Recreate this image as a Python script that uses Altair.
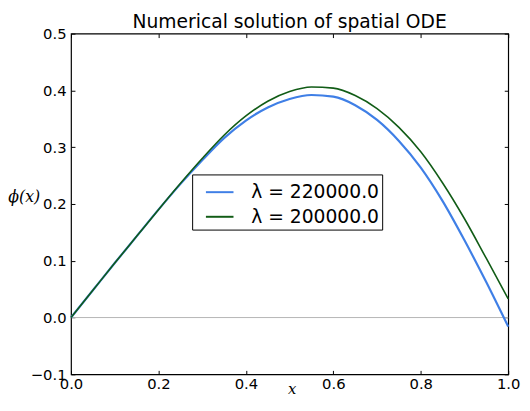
import altair as alt
import pandas as pd

# ---- data ----
x_vals = [0.00, 0.05, 0.10, 0.15, 0.20, 0.25, 0.30, 0.35, 0.40, 0.45, 0.50,
          0.55, 0.60, 0.65, 0.70, 0.75, 0.80, 0.85, 0.90, 0.95, 1.00]
phi_220 = [0.000, 0.048, 0.096, 0.143, 0.190, 0.235, 0.277, 0.316, 0.347, 0.370, 0.385,
           0.392, 0.389, 0.374, 0.348, 0.311, 0.264, 0.205, 0.136, 0.062, -0.016]
phi_200 = [0.000, 0.048, 0.096, 0.143, 0.190, 0.236, 0.280, 0.321, 0.355, 0.381, 0.398,
           0.406, 0.404, 0.391, 0.368, 0.335, 0.292, 0.237, 0.174, 0.104, 0.033]
series = ["λ = 220000.0", "λ = 200000.0"]
colors = ["#3f7fe6", "#115c16"]
zero_x = [0.0, 1.0]
zero_y = [0.0, 0.0]
x_ticks = [0.0, 0.2, 0.4, 0.6, 0.8, 1.0]
y_ticks = [-0.1, 0.0, 0.1, 0.2, 0.3, 0.4, 0.5]

W, H = 444, 346
TICK = 4

df_blue = pd.DataFrame({"x": x_vals, "phi": phi_220, "s": series[0]})
df_green = pd.DataFrame({"x": x_vals, "phi": phi_200, "s": series[1]})
df_zero = pd.DataFrame({"x": zero_x, "phi": zero_y})

xs = alt.Scale(domain=[0, 1], nice=False, zero=False)
ys = alt.Scale(domain=[-0.1, 0.5], nice=False, zero=False)
cs = alt.Scale(domain=series, range=colors)

FONT = "DejaVu Sans"

main_x = alt.Axis(values=x_ticks, format=".1f", orient="bottom", ticks=False, tickSize=0,
                  domain=False, grid=False, labelFontSize=15, labelFont=FONT,
                  labelColor="black", labelPadding=2, labelFlush=False, labelOverlap=False,
                  labelBound=False,
                  title="x", titleFont="DejaVu Serif", titleFontStyle="italic",
                  titleFontWeight="normal", titleFontSize=15, titleColor="black",
                  titleX=224, titleY=19, titleAlign="center", titleBaseline="alphabetic")
main_y = alt.Axis(values=y_ticks, format=".1f", orient="left", ticks=False, tickSize=0,
                  domain=False, grid=False, labelFontSize=15, labelFont=FONT,
                  labelColor="black", labelPadding=5, labelFlush=False, labelOverlap=False,
                  title="ϕ(x)", titleFont="DejaVu Serif", titleFontStyle="italic",
                  titleFontWeight="normal", titleFontSize=16, titleColor="black",
                  titleAngle=0, titleX=-48, titleY=165, titleAlign="center",
                  titleBaseline="middle")


def tick_axis(orient, offset, values):
    # inward-pointing ticks: the axis is pulled inside the frame by a negative offset
    return alt.Axis(values=values, orient=orient, offset=offset, labels=False,
                    domain=False, grid=False, ticks=True, tickSize=TICK,
                    tickColor="black", tickWidth=1, title=None)


zero = alt.Chart(df_zero).mark_line(color="#b5b5b5", strokeWidth=1).encode(
    x=alt.X("x:Q", scale=xs, axis=main_x),
    y=alt.Y("phi:Q", scale=ys, axis=main_y),
)

blue = alt.Chart(df_blue).mark_line(strokeWidth=2.2, interpolate="monotone").encode(
    x=alt.X("x:Q", scale=xs, axis=tick_axis("bottom", -TICK, x_ticks)),
    y=alt.Y("phi:Q", scale=ys, axis=tick_axis("left", -TICK, y_ticks)),
    color=alt.Color("s:N", scale=cs, legend=alt.Legend(title=None)),
)

green = alt.Chart(df_green).mark_line(strokeWidth=1.6, interpolate="monotone").encode(
    x=alt.X("x:Q", scale=xs, axis=tick_axis("bottom", -H, x_ticks)),
    y=alt.Y("phi:Q", scale=ys, axis=tick_axis("left", -W, y_ticks)),
    color=alt.Color("s:N", scale=cs, legend=alt.Legend(title=None)),
)

chart = (
    alt.layer(zero, blue, green)
    .resolve_axis(x="independent", y="independent")
    .properties(
        width=W,
        height=H,
        autosize=alt.AutoSizeParams(type="none"),
        padding={"left": 64, "top": 23, "right": 14, "bottom": 21},
        title=alt.Title("Numerical solution of spatial ODE", fontSize=19, font=FONT,
                        fontWeight="normal", color="black", anchor="middle", offset=6,
                        dy=11),
        background="white",
    )
    .configure_view(stroke="black", strokeWidth=1.2)
    .configure_legend(
        orient="none", legendX=123, legendY=143, strokeColor="black", fillColor="white",
        padding=3, cornerRadius=0, labelFontSize=19, labelFont=FONT, labelColor="black",
        symbolType="stroke", symbolSize=784, symbolStrokeWidth=2, symbolOffset=10,
        labelOffset=17, rowPadding=0, labelLimit=400,
    )
)

chart.save("out.html", embed_options={"renderer": "svg", "actions": False})
